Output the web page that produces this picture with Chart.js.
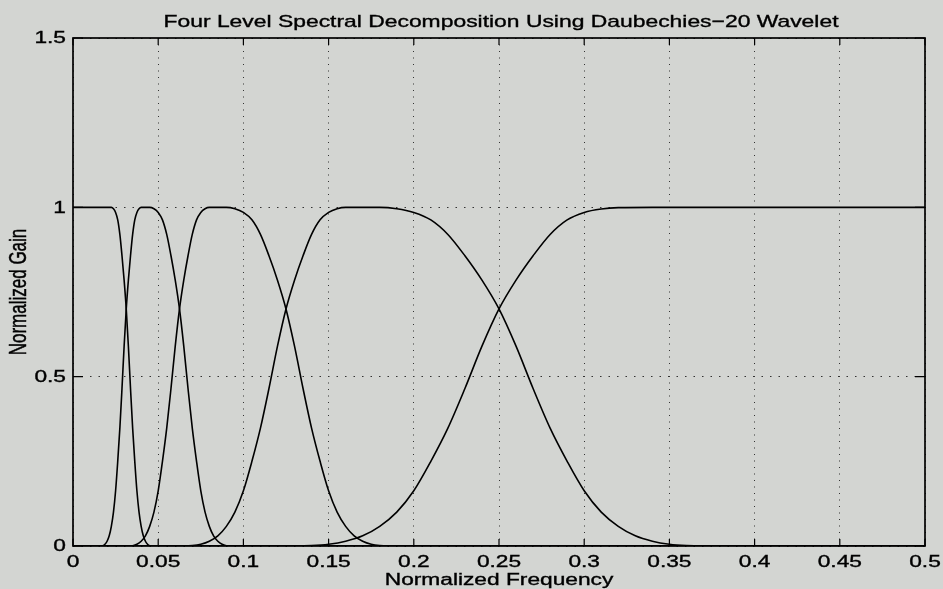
<!DOCTYPE html>
<html>
<head>
<meta charset="utf-8">
<title>Daubechies-20 band split</title>
<script src="https://cdn.jsdelivr.net/npm/chart.js@4.4.1/dist/chart.umd.min.js"></script>
<style>
  html, body { margin: 0; padding: 0; background: #d3d5d2; overflow: hidden; }
</style>
</head>
<body>
<canvas id="bands" width="943" height="589"></canvas>
<script>
// gain curves of the four-level split (normalized frequency -> normalized gain)
const a4Freq = [0, 0.0200, 0.0225, 0.02375, 0.0250, 0.02625, 0.0275, 0.02875, 0.0300, 0.03125, 0.0325, 0.03375, 0.0350, 0.03625, 0.0375, 0.03875, 0.0400, 0.04125, 0.0425, 0.04375, 0.0450, 0.04625, 0.5];
const a4Gain = [1, 1, 1, 0.996, 0.985, 0.963, 0.92, 0.857, 0.785, 0.70, 0.59, 0.465, 0.348, 0.25, 0.163, 0.10, 0.058, 0.03, 0.014, 0.005, 0.001, 0, 0];

const d4Freq = [0, 0.01625, 0.0175, 0.01875, 0.0200, 0.02125, 0.0225, 0.02375, 0.0250, 0.02625, 0.0275, 0.02875, 0.0300, 0.03125, 0.0325, 0.03375, 0.0350, 0.03625, 0.0375, 0.03875, 0.0400,
  0.0450, 0.0475, 0.0500, 0.0525, 0.0550, 0.0575, 0.0600, 0.0625, 0.0650, 0.0675, 0.0700, 0.0725, 0.0750, 0.0775, 0.0800, 0.0825, 0.0850, 0.0875, 0.0900, 0.0925, 0.5];
const d4Gain = [0, 0, 0.001, 0.005, 0.014, 0.03, 0.058, 0.10, 0.163, 0.25, 0.348, 0.465, 0.59, 0.70, 0.785, 0.857, 0.92, 0.963, 0.985, 0.996, 1,
  1, 0.996, 0.985, 0.963, 0.92, 0.857, 0.785, 0.70, 0.59, 0.465, 0.348, 0.25, 0.163, 0.10, 0.058, 0.03, 0.014, 0.005, 0.001, 0, 0];

const d3Freq = [0, 0.0325, 0.0350, 0.0375, 0.0400, 0.0425, 0.0450, 0.0475, 0.0500, 0.0525, 0.0550, 0.0575, 0.0600, 0.0625, 0.0650, 0.0675, 0.0700, 0.0725, 0.0750, 0.0775, 0.0800,
  0.0900, 0.0950, 0.1000, 0.1050, 0.1100, 0.1150, 0.1200, 0.1250, 0.1300, 0.1350, 0.1400, 0.1450, 0.1500, 0.1550, 0.1600, 0.1650, 0.1700, 0.1750, 0.1800, 0.1850, 0.5];
const d3Gain = [0, 0, 0.001, 0.005, 0.014, 0.03, 0.058, 0.10, 0.163, 0.25, 0.348, 0.465, 0.59, 0.70, 0.785, 0.857, 0.92, 0.963, 0.985, 0.996, 1,
  1, 0.996, 0.985, 0.963, 0.92, 0.857, 0.785, 0.70, 0.59, 0.465, 0.348, 0.25, 0.163, 0.10, 0.058, 0.03, 0.014, 0.005, 0.001, 0, 0];

const d2Freq = [0, 0.0650, 0.0700, 0.0750, 0.0800, 0.0850, 0.0900, 0.0950, 0.1000, 0.1050, 0.1100, 0.1150, 0.1200, 0.1250, 0.1300, 0.1350, 0.1400, 0.1450, 0.1500, 0.1550, 0.1600,
  0.1800, 0.1900, 0.2000, 0.2100, 0.2200, 0.2300, 0.2400, 0.2500, 0.2600, 0.2700, 0.2800, 0.2900, 0.3000, 0.3100, 0.3200, 0.3300, 0.3400, 0.3500, 0.3600, 0.3700, 0.5];
const d2Gain = [0, 0, 0.001, 0.005, 0.014, 0.03, 0.058, 0.10, 0.163, 0.25, 0.348, 0.465, 0.59, 0.70, 0.785, 0.857, 0.92, 0.963, 0.985, 0.996, 1,
  1, 0.996, 0.985, 0.963, 0.92, 0.857, 0.785, 0.70, 0.59, 0.465, 0.348, 0.25, 0.163, 0.10, 0.058, 0.03, 0.014, 0.005, 0.001, 0, 0];

const d1Freq = [0, 0.1300, 0.1400, 0.1500, 0.1600, 0.1700, 0.1800, 0.1900, 0.2000, 0.2100, 0.2200, 0.2300, 0.2400, 0.2500, 0.2600, 0.2700, 0.2800, 0.2900, 0.3000, 0.3100, 0.3200, 0.3400, 0.5];
const d1Gain = [0, 0, 0.001, 0.005, 0.014, 0.03, 0.058, 0.10, 0.163, 0.25, 0.348, 0.465, 0.59, 0.70, 0.785, 0.857, 0.92, 0.963, 0.985, 0.995, 0.999, 1, 1];

const freqTicks = [0, 0.05, 0.1, 0.15, 0.2, 0.25, 0.3, 0.35, 0.4, 0.45, 0.5];
const freqTickLabels = ['0', '0.05', '0.1', '0.15', '0.2', '0.25', '0.3', '0.35', '0.4', '0.45', '0.5'];
const gainTicks = [0, 0.5, 1, 1.5];
const gainTickLabels = ['0', '0.5', '1', '1.5'];

const titleText = 'Four Level Spectral Decomposition Using Daubechies\u221220 Wavelet';
const xTitleText = 'Normalized Frequency';
const yTitleText = 'Normalized Gain';

const paper = 'rgb(211,213,210)';
const ink = '#000';
const fontFamily = '"Liberation Sans", Arial, Helvetica, sans-serif';
const widen = 1.42; // labels are drawn a little wide

function toPoints(fs, gs) {
  return fs.map((f, i) => ({ x: f, y: gs[i] }));
}

function band(fs, gs) {
  return {
    data: toPoints(fs, gs),
    showLine: true,
    borderColor: '#000',
    borderWidth: 1.6,
    pointRadius: 0,
    cubicInterpolationMode: 'monotone',
    fill: false
  };
}

// fill plus a hairline stroke, so the glyphs come out a bit heavier
function inkText(ctx, text) {
  ctx.fillText(text, 0, 0);
  ctx.strokeText(text, 0, 0);
}

function textAt(ctx, text, x, y, sx, align) {
  ctx.save();
  ctx.translate(x, y);
  ctx.scale(sx, 1);
  ctx.textAlign = align;
  inkText(ctx, text);
  ctx.restore();
}

const matlabFrame = {
  id: 'matlabFrame',
  beforeDraw(chart) {
    const ctx = chart.ctx;
    ctx.save();
    ctx.fillStyle = paper;
    ctx.fillRect(0, 0, chart.width, chart.height);
    ctx.restore();
  },
  afterDraw(chart) {
    const { ctx, chartArea: a } = chart;
    const xs = chart.scales.x, ys = chart.scales.y;
    ctx.save();

    // box and inward ticks
    ctx.strokeStyle = '#000';
    ctx.lineWidth = 1.7;
    ctx.strokeRect(a.left, a.top, a.right - a.left, a.bottom - a.top);
    ctx.lineWidth = 1.2;
    ctx.beginPath();
    freqTicks.forEach(v => {
      const px = xs.getPixelForValue(v);
      ctx.moveTo(px, a.bottom); ctx.lineTo(px, a.bottom - 7);
      ctx.moveTo(px, a.top); ctx.lineTo(px, a.top + 7);
    });
    gainTicks.forEach(v => {
      const py = ys.getPixelForValue(v);
      ctx.moveTo(a.left, py); ctx.lineTo(a.left + 10, py);
      ctx.moveTo(a.right, py); ctx.lineTo(a.right - 10, py);
    });
    ctx.stroke();

    ctx.fillStyle = ink;
    ctx.strokeStyle = ink;
    ctx.lineWidth = 0.35;
    ctx.font = '16px ' + fontFamily;

    // tick labels
    ctx.textBaseline = 'alphabetic';
    freqTicks.forEach((v, i) => {
      textAt(ctx, freqTickLabels[i], xs.getPixelForValue(v), 566.5, widen, 'center');
    });
    ctx.textBaseline = 'middle';
    gainTicks.forEach((v, i) => {
      textAt(ctx, gainTickLabels[i], a.left - 7, ys.getPixelForValue(v) + 1, widen, 'right');
    });

    // axis titles
    ctx.textBaseline = 'alphabetic';
    textAt(ctx, xTitleText, (a.left + a.right) / 2, 585, widen, 'center');

    ctx.save();
    ctx.font = '17px ' + fontFamily;
    ctx.translate(19, (a.top + a.bottom) / 2);
    ctx.scale(widen, 1);
    ctx.rotate(-Math.PI / 2);
    ctx.textAlign = 'center';
    ctx.textBaseline = 'middle';
    inkText(ctx, yTitleText);
    ctx.restore();

    // title, stretched to the width it spans above the box
    ctx.font = '17px ' + fontFamily;
    const tw = ctx.measureText(titleText).width;
    textAt(ctx, titleText, 501, 26.5, 675 / tw, 'center');

    ctx.restore();
  }
};

new Chart(document.getElementById('bands'), {
  type: 'scatter',
  data: {
    datasets: [
      band(a4Freq, a4Gain),
      band(d4Freq, d4Gain),
      band(d3Freq, d3Gain),
      band(d2Freq, d2Gain),
      band(d1Freq, d1Gain)
    ]
  },
  options: {
    responsive: false,
    animation: false,
    devicePixelRatio: 1,
    layout: { padding: { left: 73, right: 18, top: 38, bottom: 43 } },
    plugins: { legend: { display: false }, tooltip: { enabled: false } },
    scales: {
      x: {
        type: 'linear',
        min: 0,
        max: 0.5,
        afterBuildTicks: s => { s.ticks = freqTicks.map(v => ({ value: v })); },
        ticks: { display: false },
        grid: { color: '#333', lineWidth: 1, drawTicks: false },
        border: { display: false, dash: [1, 5.5] }
      },
      y: {
        type: 'linear',
        min: 0,
        max: 1.5,
        afterBuildTicks: s => { s.ticks = gainTicks.map(v => ({ value: v })); },
        ticks: { display: false },
        grid: { color: '#333', lineWidth: 1, drawTicks: false },
        border: { display: false, dash: [1.5, 7] }
      }
    }
  },
  plugins: [matlabFrame]
});
</script>
</body>
</html>
